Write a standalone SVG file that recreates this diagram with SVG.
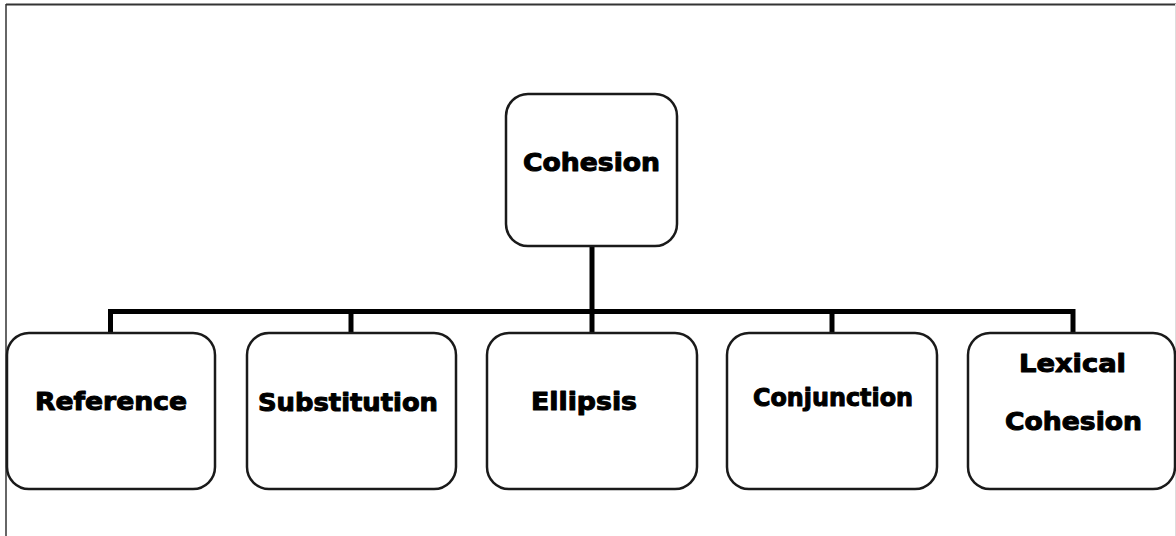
<svg xmlns="http://www.w3.org/2000/svg" width="1176" height="536" viewBox="0 0 1176 536">
<style>
.box{fill:#fff;stroke:#1a1a1a;stroke-width:2.5}
.lbl{font-family:"DejaVu Sans","Liberation Sans",sans-serif;font-weight:bold;font-size:24px;fill:#000;stroke:#000;stroke-width:1;stroke-linejoin:round}
.conn{fill:none;stroke:#000;stroke-width:5}
</style>
<rect width="1176" height="536" fill="#fff"/>
<g id="frame">
<line x1="6" y1="4.5" x2="1176" y2="4.5" stroke="#333" stroke-width="2"/>
<line x1="6" y1="4" x2="6" y2="536" stroke="#333" stroke-width="1.5"/>
<line x1="1175.5" y1="4" x2="1175.5" y2="536" stroke="#ddd" stroke-width="1"/>
</g>
<g id="connectors">
<line class="conn" x1="592" y1="246" x2="592" y2="312"/>
<polyline class="conn" points="110.5,333 110.5,311.5 1073,311.5 1073,333"/>
<line class="conn" x1="351" y1="311.5" x2="351" y2="333"/>
<line class="conn" x1="592" y1="311.5" x2="592" y2="333"/>
<line class="conn" x1="832" y1="311.5" x2="832" y2="333"/>
</g>
<g id="cohesion">
<rect class="box" x="506" y="94" width="171" height="152" rx="22"/>
<text class="lbl" x="523" y="171" textLength="137" lengthAdjust="spacingAndGlyphs">Cohesion</text>
</g>
<g id="reference">
<rect class="box" x="7" y="333" width="208" height="156" rx="22"/>
<text class="lbl" x="35" y="410" textLength="152" lengthAdjust="spacingAndGlyphs">Reference</text>
</g>
<g id="substitution">
<rect class="box" x="247" y="333" width="209" height="156" rx="22"/>
<text class="lbl" x="258" y="411" textLength="180" lengthAdjust="spacingAndGlyphs">Substitution</text>
</g>
<g id="ellipsis">
<rect class="box" x="487" y="333" width="210" height="156" rx="22"/>
<text class="lbl" x="531" y="410" textLength="106" lengthAdjust="spacingAndGlyphs">Ellipsis</text>
</g>
<g id="conjunction">
<rect class="box" x="727" y="333" width="210" height="156" rx="22"/>
<text class="lbl" x="753" y="406" textLength="160" lengthAdjust="spacingAndGlyphs">Conjunction</text>
</g>
<g id="lexical-cohesion">
<rect class="box" x="968" y="333" width="207" height="156" rx="22"/>
<text class="lbl" x="1019" y="372" textLength="107" lengthAdjust="spacingAndGlyphs">Lexical</text>
<text class="lbl" x="1005" y="430" textLength="137" lengthAdjust="spacingAndGlyphs">Cohesion</text>
</g>
</svg>
